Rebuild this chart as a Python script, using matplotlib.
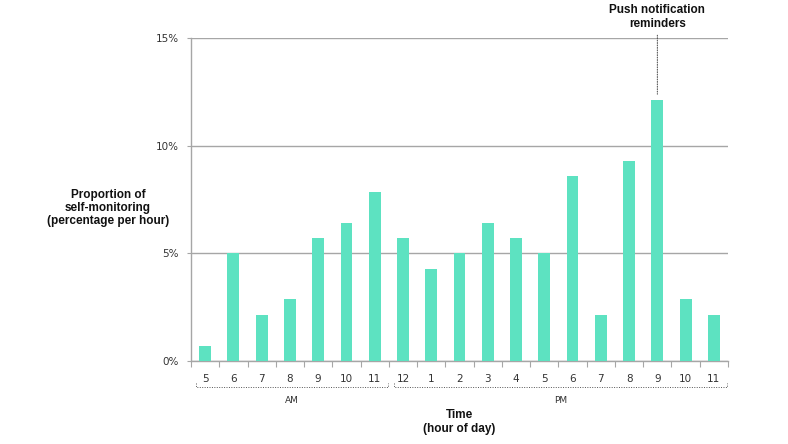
import matplotlib.pyplot as plt
import matplotlib.transforms as mtransforms

# ----- Data ---------------------------------------------------------------
hour_labels = ["5", "6", "7", "8", "9", "10", "11",
               "12", "1", "2", "3", "4", "5", "6", "7", "8", "9", "10", "11"]
share_pct = [0.71, 5.00, 2.14, 2.86, 5.71, 6.43, 7.86,
             5.71, 4.29, 5.00, 6.43, 5.71, 5.00, 8.57, 2.14, 9.29, 12.14, 2.86, 2.14]
y_ticks = [0, 5, 10, 15]
y_tick_labels = ["0%", "5%", "10%", "15%"]
push_hour_idx = 16  # 9 PM

BAR_COLOR = "#5de2c1"
GRID_COLOR = "#a6a6a6"
W, H = 788, 444

fig = plt.figure(figsize=(W / 100, H / 100), dpi=100)
ax = fig.add_axes([191 / W, 1 - 361 / H, (728 - 191) / W, (361 - 38) / H])

x = list(range(len(hour_labels)))
ax.bar(x, share_pct, width=0.42, color=BAR_COLOR, zorder=3)

ax.set_xlim(-0.5, len(hour_labels) - 0.5)
ax.set_ylim(0, 15)

# y axis: gridlines + percent labels
ax.set_yticks(y_ticks)
ax.set_yticklabels(y_tick_labels, fontsize=7.5, color="#333333")
ax.yaxis.grid(True, color=GRID_COLOR, lw=1.0, zorder=0)
ax.tick_params(axis="y", length=3, color=GRID_COLOR, pad=6)

# x axis: ticks on category boundaries, labels centred
ax.set_xticks([i - 0.5 for i in range(len(hour_labels) + 1)])
ax.set_xticklabels([])
ax.set_xticks(x, minor=True)
ax.set_xticklabels(hour_labels, minor=True, fontsize=7.5, color="#333333")
ax.tick_params(axis="x", which="major", length=4, color=GRID_COLOR)
ax.tick_params(axis="x", which="minor", length=0, pad=9)

for side in ("top", "right"):
    ax.spines[side].set_visible(False)
for side in ("left", "bottom"):
    ax.spines[side].set_color(GRID_COLOR)
    ax.spines[side].set_linewidth(1.0)

# AM / PM brackets below the hour labels
trans = mtransforms.blended_transform_factory(ax.transData, fig.transFigure)
y_line = 1 - 387 / H
y_end = 1 - 383 / H
for x0, x1, label in [(-0.33, 6.48, "AM"), (6.68, 18.45, "PM")]:
    ax.plot([x0, x0, x1, x1], [y_end, y_line, y_line, y_end], transform=trans,
            color="#555555", lw=0.7, ls=(0, (1, 1.5)), clip_on=False)
    ax.text((x0 + x1) / 2, 1 - 400 / H, label, transform=trans,
            ha="center", va="center", fontsize=6.5, color="#333333")

# axis titles
bold = dict(family=["Liberation Sans", "DejaVu Sans"], fontweight="bold",
            fontsize=8.5, color="#111111", ha="center", va="center",
            linespacing=1.15)
fig.text(459 / W, 1 - 422 / H, "Time\n(hour of day)", **bold)
fig.text(108 / W, 1 - 208 / H,
         "Proportion of\nself-monitoring\n(percentage per hour)", **bold)

# push notification callout
ax.annotate("Push notification\nreminders",
            xy=(push_hour_idx, share_pct[push_hour_idx] + 0.25),
            xytext=(push_hour_idx, 1 - 17 / H), textcoords=trans,
            annotation_clip=False,
            arrowprops=dict(arrowstyle="-", color="#444444", lw=0.7,
                            ls=(0, (1, 1.5)), shrinkA=2, shrinkB=0),
            **bold)

fig.savefig("out.png", dpi=100)
